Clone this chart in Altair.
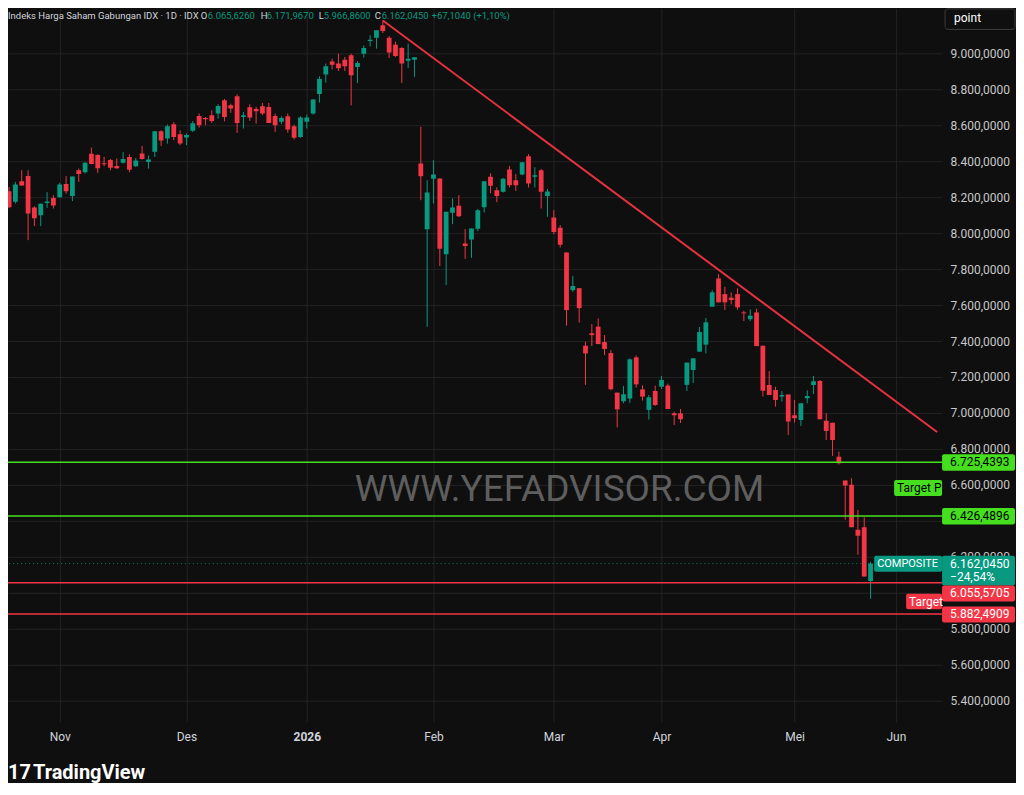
import altair as alt
import pandas as pd

# ---------------- data ----------------
opens = [8233, 8174, 8289, 8318, 8143, 8100, 8168, 8196, 8200, 8274,
         8206, 8350, 8339, 8441, 8435, 8389, 8407, 8374, 8391, 8424,
         8372, 8443, 8396, 8452, 8567, 8526, 8606, 8550, 8532, 8569,
         8652, 8641, 8656, 8665, 8739, 8711, 8761, 8646, 8700, 8691,
         8706, 8702, 8652, 8619, 8650, 8594, 8535, 8619, 8665, 8774,
         8882, 8954, 8944, 8965, 8989, 8924, 8998, 9069, 9087, 9156,
         9087, 9048, 9030, 8959, 8965, 8387, 8021, 8302, 8304, 7883,
         8113, 8152, 7943, 7965, 8024, 8144, 8313, 8239, 8230, 8354,
         8294, 8326, 8428, 8313, 8350, 8206, 8087, 8030, 7893, 7683,
         7694, 7374, 7443, 7480, 7394, 7333, 7113, 7065, 7080, 7309,
         7131, 7017, 7122, 7146, 7152, 6998, 6998, 7156, 7239, 7341,
         7380, 7591, 7748, 7661, 7641, 7661, 7559, 7521, 7559, 7374,
         7156, 7128, 7091, 7102, 6987, 6961, 7082, 7156, 7178, 6956,
         6946, 6757, 6624, 6600, 6350, 6365, 6065.626]
closes = [8144, 8271, 8265, 8109, 8083, 8163, 8176, 8154, 8271, 8233,
          8315, 8329, 8391, 8385, 8361, 8383, 8363, 8361, 8413, 8352,
          8404, 8413, 8409, 8567, 8515, 8594, 8535, 8498, 8546, 8611,
          8600, 8633, 8624, 8707, 8646, 8693, 8613, 8656, 8643, 8678,
          8665, 8613, 8600, 8641, 8576, 8530, 8643, 8643, 8743, 8857,
          8928, 8937, 8917, 8928, 8878, 8946, 9030, 9076, 9128, 9124,
          9004, 8985, 8943, 8970, 8978, 8317, 8226, 8326, 7913, 8119,
          8143, 8094, 7928, 8026, 8128, 8289, 8263, 8206, 8302, 8267,
          8267, 8394, 8276, 8322, 8230, 8232, 8007, 7935, 7572, 7706,
          7583, 7331, 7433, 7383, 7356, 7132, 7020, 7104, 7298, 7159,
          7091, 7087, 7044, 7183, 7022, 6987, 6965, 7280, 7304, 7450,
          7504, 7671, 7615, 7615, 7628, 7587, 7554, 7541, 7372, 7124,
          7100, 7072, 7100, 6952, 6970, 7054, 7094, 7176, 6965, 6900,
          6850, 6720, 6596, 6365, 6317, 6091, 6162.045]
highs = [8257, 8285, 8350, 8350, 8150, 8165, 8228, 8211, 8280, 8317,
         8315, 8359, 8394, 8476, 8439, 8424, 8413, 8415, 8450, 8439,
         8418, 8485, 8432, 8567, 8572, 8604, 8617, 8572, 8554, 8624,
         8665, 8646, 8683, 8717, 8746, 8720, 8772, 8674, 8717, 8702,
         8724, 8724, 8665, 8650, 8665, 8604, 8650, 8659, 8746, 8872,
         8943, 8970, 8998, 8980, 8998, 8957, 9044, 9100, 9128, 9183,
         9096, 9065, 9035, 9054, 8978, 8591, 8294, 8406, 8304, 8119,
         8193, 8211, 8022, 8026, 8135, 8289, 8333, 8254, 8306, 8374,
         8328, 8394, 8439, 8367, 8357, 8245, 8128, 8045, 7893, 7761,
         7694, 7396, 7494, 7526, 7433, 7350, 7113, 7150, 7304, 7320,
         7154, 7100, 7152, 7206, 7163, 7007, 7022, 7280, 7304, 7478,
         7528, 7683, 7772, 7702, 7670, 7693, 7568, 7576, 7580, 7374,
         7233, 7146, 7122, 7102, 7072, 7054, 7126, 7206, 7183, 6998,
         6946, 6785, 6624, 6637, 6461, 6420, 6171.967]
lows = [8139, 8165, 8262, 7961, 8039, 8039, 8141, 8137, 8198, 8220,
        8178, 8285, 8332, 8383, 8335, 8372, 8350, 8357, 8387, 8339,
        8368, 8409, 8359, 8424, 8485, 8498, 8517, 8489, 8489, 8563,
        8587, 8600, 8613, 8637, 8622, 8669, 8557, 8582, 8624, 8609,
        8656, 8613, 8563, 8606, 8559, 8521, 8530, 8582, 8659, 8726,
        8837, 8911, 8902, 8902, 8711, 8835, 8976, 9039, 9026, 9113,
        8974, 8980, 8835, 8919, 8869, 8183, 7479, 8165, 7817, 7711,
        8050, 8089, 7857, 7863, 8011, 8115, 8222, 8172, 8226, 8254,
        8235, 8322, 8254, 8254, 8137, 8091, 7994, 7920, 7485, 7674,
        7502, 7156, 7372, 7383, 7322, 7126, 6920, 7054, 7056, 7141,
        7069, 6963, 7039, 7133, 7022, 6933, 6944, 7122, 7167, 7341,
        7331, 7591, 7615, 7572, 7604, 7574, 7511, 7511, 7372, 7091,
        7100, 7035, 7063, 6878, 6946, 6928, 7054, 7106, 6965, 6850,
        6761, 6713, 6406, 6365, 6211, 6091, 5966.86]

month_ticks = [8, 28, 47, 67, 86, 103, 124, 140]
month_names = ["Nov", "Des", "2026", "Feb", "Mar", "Apr", "Mei", "Jun"]
price_ticks = list(range(5400, 9001, 200))
hidden_price_labels = [6400, 6000]   # covered by the price tags in the reference

support_levels = [6725.4393, 6426.4896]
stop_levels = [6055.5705, 5882.4909]
last_price = 6162.045
trend_index = [59, 146.5]
trend_price = [9183, 6894]

# ---------------- style ----------------
BG = "#0f0f0f"
UP = "#089981"
DOWN = "#f23645"
LIME = "#45df1f"
GRID = "#232323"
TXT = "#d1d4dc"
FONT = "Roboto"

W, H = 935, 714
Y0, Y1 = 5283.0, 9250.0
PPP = (Y1 - Y0) / H

xs = alt.Scale(domain=[0.62, 146.5], nice=False, zero=False)
ys = alt.Scale(domain=[Y0, Y1], nice=False, zero=False)

df = pd.DataFrame({"i": list(range(len(opens))), "open": opens, "high": highs,
                   "low": lows, "close": closes})

x_label_expr = " : ".join(
    f"datum.value == {t} ? '{n}'" for t, n in zip(month_ticks, month_names)) + " : ''"
hide_test = " || ".join(f"datum.value == {v}" for v in hidden_price_labels)
y_label_expr = (f"({hide_test}) ? '' : "
                "format(floor(datum.value/1000),'d') + '.' + "
                "format(datum.value % 1000, '03d') + ',0000'")
year_tick = month_ticks[month_names.index("2026")]

x_axis = alt.Axis(values=month_ticks, labelExpr=x_label_expr, title=None, grid=True,
                  gridColor=GRID, domain=False, ticks=False, labelPadding=10,
                  labelColor=TXT, labelFontSize=12, labelFont=FONT,
                  labelFontWeight={"condition": {"test": f"datum.value == {year_tick}",
                                                 "value": "bold"},
                                   "value": "normal"})
y_axis = alt.Axis(orient="right", values=price_ticks, labelExpr=y_label_expr, title=None,
                  grid=True, gridColor=GRID, domain=False, ticks=False, labelPadding=8,
                  labelColor="#c8c8c8", labelFontSize=12, labelFont=FONT)


def X(field):
    return alt.X(field, scale=xs, axis=x_axis)


def Y(field):
    return alt.Y(field, scale=ys, axis=y_axis)


color = alt.condition("datum.close >= datum.open", alt.value(UP), alt.value(DOWN))

one = pd.DataFrame({"k": [0]})

watermark = alt.Chart(one).mark_text(
    text="WWW.YEFADVISOR.COM", font=FONT, fontSize=37, color="#5e5e5e",
    align="center", baseline="middle").encode(x=alt.value(552), y=alt.value(482))

wicks = alt.Chart(df).mark_rule(strokeWidth=1, clip=True).encode(
    x=X("i:Q"), y=Y("low:Q"), y2="high:Q", color=color)

bodies = alt.Chart(df).mark_bar(size=4.8, clip=True).encode(
    x=X("i:Q"), y=Y("open:Q"), y2="close:Q", color=color)

cur = pd.DataFrame({"p": [last_price], "i0": [0], "i_end": [len(opens) - 1]})
cur_line = alt.Chart(cur).mark_rule(strokeDash=[1, 3], strokeWidth=1, color=UP,
                                    opacity=0.8, clip=True).encode(
    x=X("i0:Q"), x2="i_end:Q", y=Y("p:Q"))

sup = alt.Chart(pd.DataFrame({"p": support_levels})).mark_rule(
    color=LIME, strokeWidth=1.5, clip=True).encode(y=Y("p:Q"))
stp = alt.Chart(pd.DataFrame({"p": stop_levels})).mark_rule(
    color=DOWN, strokeWidth=1.5, clip=True).encode(y=Y("p:Q"))

trend = alt.Chart(pd.DataFrame({"i": trend_index, "p": trend_price})).mark_line(
    color="#e8313f", strokeWidth=2, clip=True).encode(x=X("i:Q"), y=Y("p:Q"))


def tag(price, x0, x1, top, bottom, fill, lines, ink, tx, size=12):
    d = pd.DataFrame({"p": [price]})
    out = [alt.Chart(d).transform_calculate(
        a=f"datum.p - ({top})*{PPP}", b=f"datum.p - ({bottom})*{PPP}"
    ).mark_rect(fill=fill, cornerRadius=2, clip=False).encode(
        x=alt.value(x0), x2=alt.value(x1), y=Y("a:Q"), y2="b:Q")]
    for off, s in lines:
        out.append(alt.Chart(d).transform_calculate(c=f"datum.p - ({off})*{PPP}").mark_text(
            text=s, align="left", baseline="middle", color=ink, fontSize=size,
            font=FONT, clip=False).encode(x=alt.value(tx), y=Y("c:Q")))
    return out


tags = []
tags += tag(support_levels[0], 935, 1008, -8, 8.5, LIME, [(0, "6.725,4393")], "#000000", 943)
tags += tag(support_levels[1], 935, 1008, -8, 8.5, LIME, [(0, "6.426,4896")], "#000000", 943)
tags += tag(last_price, 935, 1008, -8, 22, UP, [(0, "6.162,0450"), (13, "\u221224,54%")], "#ffffff", 943)
tags += tag(stop_levels[0], 935, 1008, 2.7, 18.7, DOWN, [(10.5, "6.055,5705")], "#ffffff", 943)
tags += tag(stop_levels[1], 935, 1008, -7.5, 8.5, DOWN, [(0, "5.882,4909")], "#ffffff", 943)
tags += tag(support_levels[0], 887, 935, 17.6, 33.6, LIME, [(25.6, "Target P")], "#000000", 890)
tags += tag(last_price, 867, 935, -8, 8.2, UP, [(0, "COMPOSITE")], "#ffffff", 870, size=11)
tags += tag(stop_levels[0], 899, 935, 11, 26.5, DOWN, [(18.8, "Target")], "#ffffff", 902)

header_parts = [
    (0, "Indeks Harga Saham Gabungan IDX \u00b7 1D \u00b7 IDX", TXT),
    (193, "O", TXT), (200, "6.065,6260", UP),
    (253, "H", TXT), (259, "6.171,9670", UP),
    (311, "L", TXT), (316, "5.966,8600", UP),
    (367, "C", TXT), (374, "6.162,0450", UP),
    (424, "+67,1040 (+1,10%)", UP),
]
header = [alt.Chart(one).mark_text(text=t, color=c, font=FONT, fontSize=9.5, align="left",
                                    baseline="middle").encode(x=alt.value(x), y=alt.value(8))
          for x, t, c in header_parts]

point_box = alt.Chart(one).mark_rect(fill=BG, stroke="#3d3d3d", strokeWidth=1,
                                     cornerRadius=3).encode(
    x=alt.value(938), x2=alt.value(1008), y=alt.value(0.5), y2=alt.value(21))
point_txt = alt.Chart(one).mark_text(text="point", color="#ffffff", font=FONT, fontSize=12,
                                     align="left", baseline="middle").encode(
    x=alt.value(947), y=alt.value(10))

logo_mark = alt.Chart(one).mark_text(text="17", color="#ffffff", font=FONT, fontSize=20,
                                     fontWeight="bold", align="left", baseline="middle").encode(
    x=alt.value(0), y=alt.value(765))
logo_txt = alt.Chart(one).mark_text(text="TradingView", color="#ffffff", font=FONT, fontSize=20,
                                    fontWeight="bold", align="left", baseline="middle").encode(
    x=alt.value(25), y=alt.value(765))

chart = alt.layer(
    watermark, wicks, bodies, cur_line, sup, stp, trend, *tags, *header,
    point_box, point_txt, logo_mark, logo_txt
).properties(
    width=W, height=H,
    padding=0,
    background=BG,
).configure_view(strokeWidth=0)

chart.save("out.html", embed_options={"renderer": "svg", "actions": False})
